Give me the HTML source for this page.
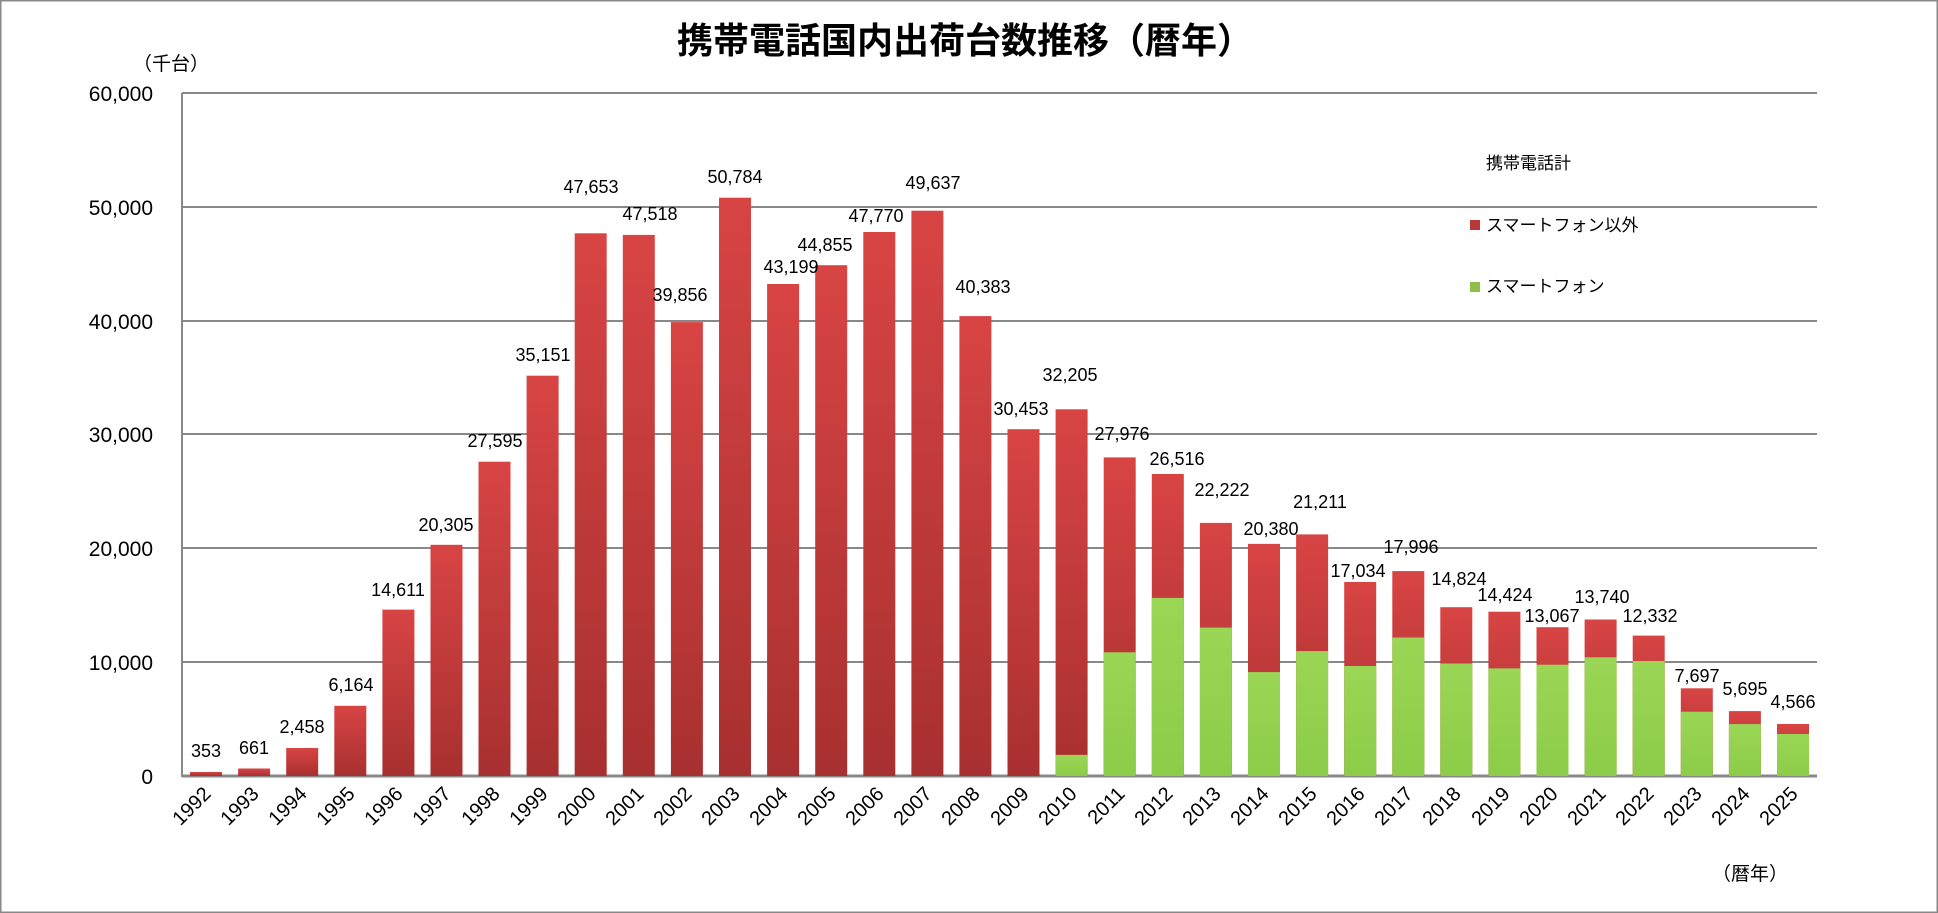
<!DOCTYPE html>
<html><head><meta charset="utf-8"><style>
html,body{margin:0;padding:0;background:#fff}
svg{display:block}
text{font-family:"Liberation Sans","Noto Sans CJK JP",sans-serif;fill:#000}
</style></head><body>
<svg width="1938" height="913" viewBox="0 0 1938 913" xmlns="http://www.w3.org/2000/svg">
<defs>
<linearGradient id="r" x1="0" y1="0" x2="0" y2="1"><stop offset="0" stop-color="#d84444"/><stop offset="1" stop-color="#a83030"/></linearGradient>
<linearGradient id="g" x1="0" y1="0" x2="0" y2="1"><stop offset="0" stop-color="#9ad655"/><stop offset="1" stop-color="#8ccc48"/></linearGradient>
</defs>
<rect x="0.5" y="0.5" width="1937" height="912" fill="#fff" stroke="#888" stroke-width="2"/>
<text x="965" y="53" font-size="36" font-weight="bold" text-anchor="middle">携帯電話国内出荷台数推移（暦年）</text>
<text x="133" y="70" font-size="19">（千台）</text>
<text x="1712" y="880" font-size="19">（暦年）</text>
<g stroke="#888" stroke-width="2">
<line x1="182" y1="93" x2="1817" y2="93"/>
<line x1="182" y1="207" x2="1817" y2="207"/>
<line x1="182" y1="321" x2="1817" y2="321"/>
<line x1="182" y1="434" x2="1817" y2="434"/>
<line x1="182" y1="548" x2="1817" y2="548"/>
<line x1="182" y1="662" x2="1817" y2="662"/>
<line x1="182" y1="93" x2="182" y2="777"/>
<line x1="182" y1="776" x2="1817" y2="776" stroke-width="3"/>
</g>
<g font-size="21" text-anchor="end">
<text x="153" y="101">60,000</text><text x="153" y="215">50,000</text><text x="153" y="329">40,000</text>
<text x="153" y="442">30,000</text><text x="153" y="556">20,000</text><text x="153" y="670">10,000</text><text x="153" y="784">0</text>
</g>
<g fill="url(#r)">
<rect x="190.0" y="772.0" width="32" height="4.0"/>
<rect x="238.1" y="768.5" width="32" height="7.5"/>
<rect x="286.2" y="748.0" width="32" height="28.0"/>
<rect x="334.3" y="705.8" width="32" height="70.2"/>
<rect x="382.4" y="609.6" width="32" height="166.4"/>
<rect x="430.5" y="544.8" width="32" height="231.2"/>
<rect x="478.5" y="461.7" width="32" height="314.3"/>
<rect x="526.6" y="375.7" width="32" height="400.3"/>
<rect x="574.7" y="233.3" width="32" height="542.7"/>
<rect x="622.8" y="234.9" width="32" height="541.1"/>
<rect x="670.9" y="322.1" width="32" height="453.9"/>
<rect x="719.0" y="197.7" width="32" height="578.3"/>
<rect x="767.1" y="284.0" width="32" height="492.0"/>
<rect x="815.2" y="265.2" width="32" height="510.8"/>
<rect x="863.3" y="232.0" width="32" height="544.0"/>
<rect x="911.4" y="210.7" width="32" height="565.3"/>
<rect x="959.4" y="316.1" width="32" height="459.9"/>
<rect x="1007.5" y="429.2" width="32" height="346.8"/>
<rect x="1055.6" y="409.3" width="32" height="366.7"/>
<rect x="1103.7" y="457.4" width="32" height="318.6"/>
<rect x="1151.8" y="474.0" width="32" height="302.0"/>
<rect x="1199.9" y="522.9" width="32" height="253.1"/>
<rect x="1248.0" y="543.9" width="32" height="232.1"/>
<rect x="1296.1" y="534.4" width="32" height="241.6"/>
<rect x="1344.2" y="582.0" width="32" height="194.0"/>
<rect x="1392.3" y="571.1" width="32" height="204.9"/>
<rect x="1440.3" y="607.2" width="32" height="168.8"/>
<rect x="1488.4" y="611.7" width="32" height="164.3"/>
<rect x="1536.5" y="627.2" width="32" height="148.8"/>
<rect x="1584.6" y="619.5" width="32" height="156.5"/>
<rect x="1632.7" y="635.6" width="32" height="140.4"/>
<rect x="1680.8" y="688.3" width="32" height="87.7"/>
<rect x="1728.9" y="711.1" width="32" height="64.9"/>
<rect x="1777.0" y="724.0" width="32" height="52.0"/>
</g>
<g fill="url(#g)">
<rect x="1055.6" y="754.9" width="32" height="21.1"/>
<rect x="1103.7" y="652.3" width="32" height="123.7"/>
<rect x="1151.8" y="597.9" width="32" height="178.1"/>
<rect x="1199.9" y="627.6" width="32" height="148.4"/>
<rect x="1248.0" y="672.1" width="32" height="103.9"/>
<rect x="1296.1" y="651.1" width="32" height="124.9"/>
<rect x="1344.2" y="666.0" width="32" height="110.0"/>
<rect x="1392.3" y="637.5" width="32" height="138.5"/>
<rect x="1440.3" y="663.5" width="32" height="112.5"/>
<rect x="1488.4" y="668.4" width="32" height="107.6"/>
<rect x="1536.5" y="664.7" width="32" height="111.3"/>
<rect x="1584.6" y="657.3" width="32" height="118.7"/>
<rect x="1632.7" y="661.0" width="32" height="115.0"/>
<rect x="1680.8" y="711.7" width="32" height="64.3"/>
<rect x="1728.9" y="724.1" width="32" height="51.9"/>
<rect x="1777.0" y="734.0" width="32" height="42.0"/>
</g>
<g font-size="18" text-anchor="middle">
<text x="206" y="757">353</text><text x="254" y="754">661</text><text x="302" y="733">2,458</text>
<text x="351" y="691">6,164</text><text x="398" y="596">14,611</text><text x="446" y="531">20,305</text>
<text x="495" y="447">27,595</text><text x="543" y="361">35,151</text><text x="591" y="193">47,653</text>
<text x="650" y="220">47,518</text><text x="680" y="301">39,856</text><text x="735" y="183">50,784</text>
<text x="791" y="273">43,199</text><text x="825" y="251">44,855</text><text x="876" y="222">47,770</text>
<text x="933" y="189">49,637</text><text x="983" y="293">40,383</text><text x="1021" y="415">30,453</text>
<text x="1070" y="381">32,205</text><text x="1122" y="440">27,976</text><text x="1177" y="465">26,516</text>
<text x="1222" y="496">22,222</text><text x="1271" y="535">20,380</text><text x="1320" y="508">21,211</text>
<text x="1358" y="577">17,034</text><text x="1411" y="553">17,996</text><text x="1459" y="585">14,824</text>
<text x="1505" y="601">14,424</text><text x="1552" y="622">13,067</text><text x="1602" y="603">13,740</text>
<text x="1650" y="622">12,332</text><text x="1697" y="682">7,697</text><text x="1745" y="695">5,695</text>
<text x="1793" y="708">4,566</text>
</g>
<g font-size="20" text-anchor="end">
<text transform="translate(212,795) rotate(-45)">1992</text>
<text transform="translate(260,795) rotate(-45)">1993</text>
<text transform="translate(308,795) rotate(-45)">1994</text>
<text transform="translate(356,795) rotate(-45)">1995</text>
<text transform="translate(404,795) rotate(-45)">1996</text>
<text transform="translate(452,795) rotate(-45)">1997</text>
<text transform="translate(501,795) rotate(-45)">1998</text>
<text transform="translate(549,795) rotate(-45)">1999</text>
<text transform="translate(597,795) rotate(-45)">2000</text>
<text transform="translate(645,795) rotate(-45)">2001</text>
<text transform="translate(693,795) rotate(-45)">2002</text>
<text transform="translate(741,795) rotate(-45)">2003</text>
<text transform="translate(789,795) rotate(-45)">2004</text>
<text transform="translate(837,795) rotate(-45)">2005</text>
<text transform="translate(885,795) rotate(-45)">2006</text>
<text transform="translate(933,795) rotate(-45)">2007</text>
<text transform="translate(981,795) rotate(-45)">2008</text>
<text transform="translate(1030,795) rotate(-45)">2009</text>
<text transform="translate(1078,795) rotate(-45)">2010</text>
<text transform="translate(1126,795) rotate(-45)">2011</text>
<text transform="translate(1174,795) rotate(-45)">2012</text>
<text transform="translate(1222,795) rotate(-45)">2013</text>
<text transform="translate(1270,795) rotate(-45)">2014</text>
<text transform="translate(1318,795) rotate(-45)">2015</text>
<text transform="translate(1366,795) rotate(-45)">2016</text>
<text transform="translate(1414,795) rotate(-45)">2017</text>
<text transform="translate(1462,795) rotate(-45)">2018</text>
<text transform="translate(1511,795) rotate(-45)">2019</text>
<text transform="translate(1559,795) rotate(-45)">2020</text>
<text transform="translate(1607,795) rotate(-45)">2021</text>
<text transform="translate(1655,795) rotate(-45)">2022</text>
<text transform="translate(1703,795) rotate(-45)">2023</text>
<text transform="translate(1751,795) rotate(-45)">2024</text>
<text transform="translate(1799,795) rotate(-45)">2025</text>
</g>
<g font-size="17">
<text x="1486" y="169">携帯電話計</text>
<rect x="1470" y="220" width="10" height="10" fill="#b83838"/>
<text x="1486" y="231">スマートフォン以外</text>
<rect x="1470" y="282" width="10" height="10" fill="#8cc048"/>
<text x="1486" y="292">スマートフォン</text>
</g>
</svg>
</body></html>
